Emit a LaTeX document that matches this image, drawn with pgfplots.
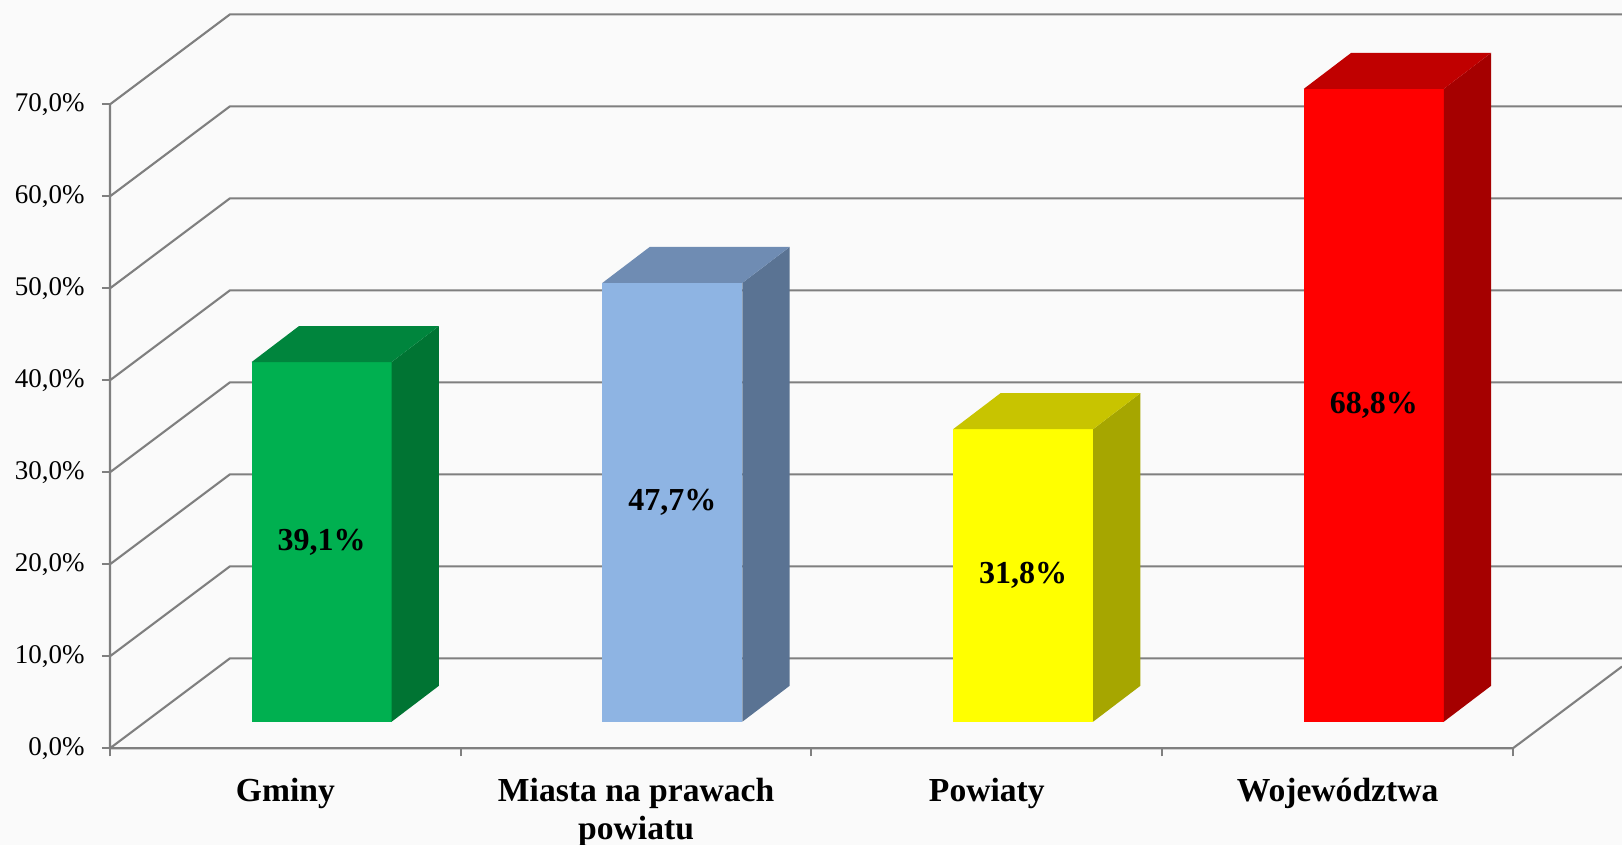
\documentclass[border=0pt]{standalone}
\usepackage{pgfplots}
\pgfplotsset{compat=1.18}
\usepackage{fontspec}
\setmainfont{Liberation Serif}
\definecolor{gridc}{HTML}{7F7F7F}
\definecolor{gF}{HTML}{00B050}\definecolor{gT}{HTML}{00853D}\definecolor{gS}{HTML}{007433}
\definecolor{bF}{HTML}{8EB4E3}\definecolor{bT}{HTML}{6F8CB3}\definecolor{bS}{HTML}{5A7393}
\definecolor{yF}{HTML}{FFFF00}\definecolor{yT}{HTML}{C8C400}\definecolor{yS}{HTML}{A6A600}
\definecolor{rF}{HTML}{FF0000}\definecolor{rT}{HTML}{C00000}\definecolor{rS}{HTML}{A50000}
\begin{document}
\begin{tikzpicture}
\fill[black!2] (-55pt,-48.35pt) rectangle (756pt,374.15pt);
\begin{axis}[
  scale only axis, width=756pt, height=374.15pt,
  xmin=0, xmax=4.311, ymin=0, ymax=81.34,
  clip=false,
  axis line style={draw=none},
  /pgf/number format/assume math mode=true,
  ytick={0,10,20,30,40,50,60,70},
  yticklabel={\pgfmathprintnumber[fixed,fixed zerofill,precision=1,use comma]{\tick}\%},
  ytick pos=left, xtick pos=bottom,
  tick align=outside,
  major tick length=4pt,
  tick style={draw=gridc, line width=1pt},
  xtick={0,1,2,3,4}, xticklabels={,,,,},
  extra x ticks={0.5,1.5,2.5,3.5},
  extra x tick labels={Gminy, Miasta na prawach\\powiatu, Powiaty, Województwa},
  extra x tick style={tick style={draw=none}, major tick length=0pt},
  x tick label style={align=center, anchor=north, inner sep=0pt, yshift=-14.5pt,
     font=\bfseries\fontsize{16.8}{19.2}\selectfont},
  y tick label style={anchor=east, inner sep=0pt, xshift=-8.5pt,
     font=\fontsize{13.5}{15}\selectfont},
]
% walls and grid
\addplot[gridc, line width=1.05pt, unbounded coords=jump, mark=none] coordinates {
 (0,70) (0,0) (4,0) (4.311,8.89) (nan,nan)
 (0,0) (0.342,9.78) (4.311,9.78) (nan,nan)
 (0,10) (0.342,19.78) (4.311,19.78) (nan,nan)
 (0,20) (0.342,29.78) (4.311,29.78) (nan,nan)
 (0,30) (0.342,39.78) (4.311,39.78) (nan,nan)
 (0,40) (0.342,49.78) (4.311,49.78) (nan,nan)
 (0,50) (0.342,59.78) (4.311,59.78) (nan,nan)
 (0,60) (0.342,69.78) (4.311,69.78) (nan,nan)
 (0,70) (0.342,79.78) (4.311,79.78)
};
% Gminy 39.1
\addplot[fill=gF, draw=none] coordinates {(0.404,2.89) (0.803,2.89) (0.803,41.99) (0.404,41.99)};
\addplot[fill=gS, draw=none] coordinates {(0.803,2.89) (0.938,6.80) (0.938,45.90) (0.803,41.99)};
\addplot[fill=gT, draw=none] coordinates {(0.404,41.99) (0.803,41.99) (0.938,45.90) (0.539,45.90)};
% Miasta 47.7
\addplot[fill=bF, draw=none] coordinates {(1.404,2.89) (1.803,2.89) (1.803,50.59) (1.404,50.59)};
\addplot[fill=bS, draw=none] coordinates {(1.803,2.89) (1.938,6.80) (1.938,54.50) (1.803,50.59)};
\addplot[fill=bT, draw=none] coordinates {(1.404,50.59) (1.803,50.59) (1.938,54.50) (1.539,54.50)};
% Powiaty 31.8
\addplot[fill=yF, draw=none] coordinates {(2.404,2.89) (2.803,2.89) (2.803,34.69) (2.404,34.69)};
\addplot[fill=yS, draw=none] coordinates {(2.803,2.89) (2.938,6.80) (2.938,38.60) (2.803,34.69)};
\addplot[fill=yT, draw=none] coordinates {(2.404,34.69) (2.803,34.69) (2.938,38.60) (2.539,38.60)};
% Wojewodztwa 68.8
\addplot[fill=rF, draw=none] coordinates {(3.404,2.89) (3.803,2.89) (3.803,71.69) (3.404,71.69)};
\addplot[fill=rS, draw=none] coordinates {(3.803,2.89) (3.938,6.80) (3.938,75.60) (3.803,71.69)};
\addplot[fill=rT, draw=none] coordinates {(3.404,71.69) (3.803,71.69) (3.938,75.60) (3.539,75.60)};
% value labels
\addplot[draw=none, mark=none, nodes near coords, point meta=explicit symbolic,
  nodes near coords style={anchor=center, inner sep=0pt, text=black,
     font=\bfseries\fontsize{16}{18}\selectfont}]
  coordinates {(0.6035,22.44) [39,1\%] (1.6035,26.74) [47,7\%] (2.6035,18.79) [31,8\%] (3.6035,37.29) [68,8\%]};
\end{axis}
\pgfresetboundingbox
\path[use as bounding box] (-55pt,-48.35pt) rectangle (756pt,374.15pt);
\end{tikzpicture}
\end{document}
